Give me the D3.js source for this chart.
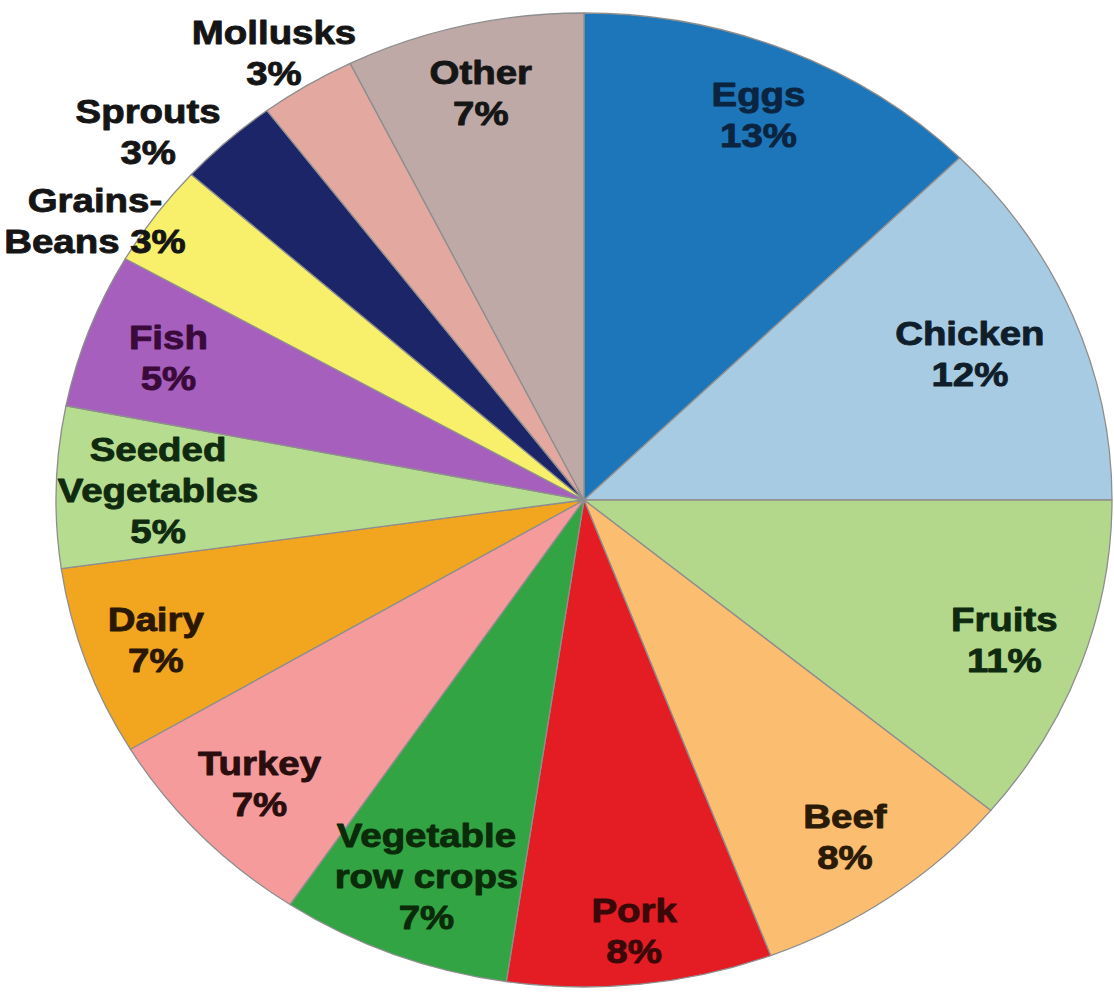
<!DOCTYPE html>
<html>
<head>
<meta charset="utf-8">
<script src="https://cdn.jsdelivr.net/npm/d3@7/dist/d3.min.js"></script>
<style>
  html, body { margin: 0; padding: 0; background: #ffffff; }
  svg { display: block; }
</style>
</head>
<body>
<script>
// ---------- data ----------
const categories = ["Eggs", "Chicken", "Fruits", "Beef", "Pork", "Vegetable row crops",
  "Turkey", "Dairy", "Seeded Vegetables", "Fish", "Grains-Beans", "Sprouts", "Mollusks", "Other"];
const shares = [12.6, 12.4, 11.0, 8.25, 8.1, 7.05, 7.05, 6.3, 5.35, 5.15, 3.4, 3.1, 2.95, 7.3];
const labelLines = [
  ["Eggs", "13%"], ["Chicken", "12%"], ["Fruits", "11%"], ["Beef", "8%"], ["Pork", "8%"],
  ["Vegetable", "row crops", "7%"], ["Turkey", "7%"], ["Dairy", "7%"],
  ["Seeded", "Vegetables", "5%"], ["Fish", "5%"], ["Grains-", "Beans 3%"],
  ["Sprouts", "3%"], ["Mollusks", "3%"], ["Other", "7%"]
];

// ---------- styles / layout ----------
const sliceColors = ["#1c76b9", "#a8cbe4", "#b3d88c", "#fbbd6f", "#e41c24", "#33a443",
  "#f59b9b", "#f2a51f", "#b6dc8f", "#a65fbc", "#f8ef6b", "#1b2567", "#e3a9a1", "#bea9a6"];
const textColors = ["#0b2440", "#0f1e2a", "#0f2a0f", "#2a1a08", "#3a0808", "#0a2a0a",
  "#2a0e0e", "#2a1804", "#0f2a0f", "#3a0a3a", "#151515", "#151515", "#151515", "#151515"];
const labelRadius = [0.857, 0.79, 0.846, 0.85, 0.89, 0.827, 0.847, 0.86, 0.807, 0.84, 1.09, 1.12, 1.09, 0.86];
const labelAngleShift = [0, 0, 0, 0, 0, 0, 0, 0, 0, 0, -4, -5, -1, 0];

const W = 1114, H = 993;
const cx = 584, cy = 500, rx = 528, ry = 487, R = 100;
const fontSize = 34, lineGap = 41, capH = 24, stretchX = 1.13;

const svg = d3.select("body").append("svg").attr("width", W).attr("height", H);

const pie = d3.pie().sort(null).value(d => d).startAngle(0).endAngle(2 * Math.PI);
const arcs = pie(shares);
const arc = d3.arc().innerRadius(0).outerRadius(R);

const g = svg.append("g")
  .attr("transform", `translate(${cx},${cy}) scale(${rx / R},${ry / R})`);

g.selectAll("path.slice")
  .data(arcs)
  .join("path")
  .attr("class", "slice")
  .attr("d", arc)
  .attr("fill", (d, i) => sliceColors[i])
  .attr("stroke", "#8e8e8e")
  .attr("stroke-width", 1.3)
  .attr("vector-effect", "non-scaling-stroke")
  .attr("stroke-linejoin", "round");

// labels
const lab = svg.append("g");
arcs.forEach((d, i) => {
  const mid = (d.startAngle + d.endAngle) / 2 + labelAngleShift[i] * Math.PI / 180;
  const r = labelRadius[i];
  const x = cx + rx * r * Math.sin(mid);
  const y = cy - ry * r * Math.cos(mid);
  const lines = labelLines[i];
  const n = lines.length;
  const t = lab.append("text")
    .attr("transform", `translate(${x},${y}) scale(${stretchX},1)`)
    .attr("text-anchor", "middle")
    .attr("font-family", "'Liberation Sans', Arial, sans-serif")
    .attr("font-weight", "bold")
    .attr("font-size", fontSize)
    .attr("fill", textColors[i])
    .attr("stroke", textColors[i])
    .attr("stroke-width", 0.9)
    .attr("stroke-linejoin", "round");
  lines.forEach((ln, k) => {
    t.append("tspan")
      .attr("x", 0)
      .attr("y", -(n - 1) * lineGap / 2 + k * lineGap + capH / 2)
      .text(ln);
  });
});
</script>
</body>
</html>
